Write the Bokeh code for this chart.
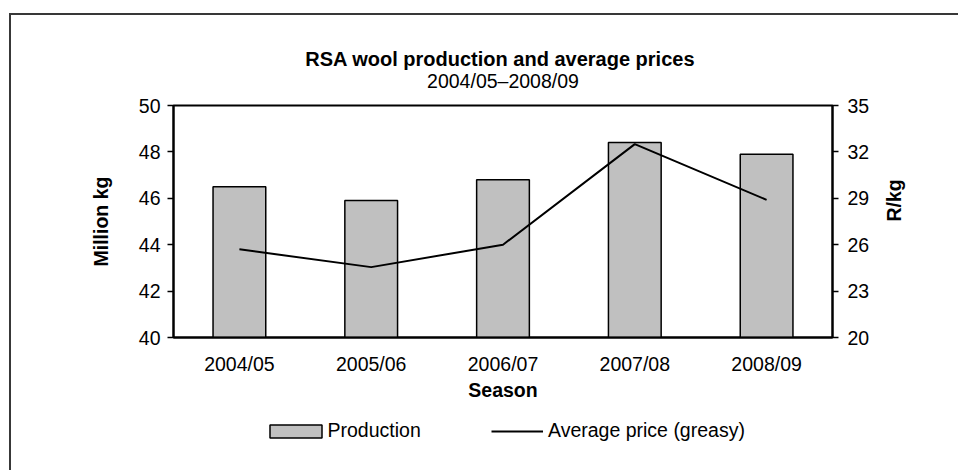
import math
from bokeh.plotting import figure
from bokeh.layouts import column
from bokeh.models import (FactorRange, Range1d, LinearAxis, FixedTicker, Label,
                          Legend, LegendItem)
from bokeh.embed import file_html
from bokeh.resources import INLINE

# ---- data ----
seasons = ["2004/05", "2005/06", "2006/07", "2007/08", "2008/09"]
production = [46.5, 45.9, 46.8, 48.4, 47.9]          # Million kg
avg_price = [25.7, 24.55, 26.0, 32.5, 28.9]           # R/kg (greasy)
prod_ticks = [40, 42, 44, 46, 48, 50]
price_ticks = [20, 23, 26, 29, 32, 35]

title_text = "RSA  wool production and average prices"
subtitle_text = "2004/05\u20132008/09"
legend_labels = ["Production", "Average price (greasy)"]

FONT = "Liberation Sans"
FS = "19.5px"
W = 949
BORDER = "2px solid #383838"
BAR_FILL = "#c0c0c0"

# ---------------- header (titles) ----------------
H0 = 80
p0 = figure(width=W, height=H0, title=None,
            x_range=Range1d(0, 1), y_range=Range1d(0, H0),
            output_backend="svg", toolbar_location=None,
            x_axis_location=None, y_axis_location=None, min_border=0,
            min_border_top=0, min_border_bottom=0)
p0.outline_line_color = None
p0.grid.visible = False
p0.styles = {"border-left": BORDER, "border-top": BORDER,
             "margin-left": "9px", "margin-top": "13px"}
p0.add_layout(Label(x=0.5, y=37, text=title_text,
                    text_align="center", text_baseline="alphabetic",
                    text_font=FONT, text_font_style="bold", text_font_size="20px",
                    text_color="black"))
p0.add_layout(Label(x=0.5, y=14.7, text=subtitle_text,
                    text_align="center", text_baseline="alphabetic",
                    text_font=FONT, text_font_size=FS, text_color="black"))

# ---------------- main chart ----------------
p = figure(width=W, height=322, title=None,
           x_range=FactorRange(factors=seasons),
           y_range=Range1d(prod_ticks[0], prod_ticks[-1]),
           output_backend="svg", toolbar_location=None,
           min_border_left=162, min_border_right=128,
           min_border_top=12, min_border_bottom=78)
p.extra_y_ranges = {"price": Range1d(price_ticks[0], price_ticks[-1])}
p.styles = {"border-left": BORDER, "margin-left": "9px"}

p.background_fill_color = "white"
p.border_fill_color = "white"
p.outline_line_color = "black"
p.outline_line_width = 2
p.xgrid.grid_line_color = None
p.ygrid.grid_line_color = None

p.vbar(x=seasons, top=production, bottom=prod_ticks[0], width=0.4,
       fill_color=BAR_FILL, line_color="black", line_width=1.5)
p.line(x=seasons, y=avg_price, y_range_name="price",
       line_color="black", line_width=2)


def style_axis(ax):
    ax.axis_label_text_font = FONT
    ax.axis_label_text_font_style = "bold"
    ax.axis_label_text_font_size = FS
    ax.axis_label_text_color = "black"
    ax.major_label_text_font = FONT
    ax.major_label_text_font_size = FS
    ax.major_label_text_color = "black"
    ax.axis_line_color = "black"
    ax.axis_line_width = 2
    ax.major_tick_line_color = "black"
    ax.major_tick_line_width = 1.5
    ax.minor_tick_line_color = None


ya = p.yaxis[0]
style_axis(ya)
ya.ticker = FixedTicker(ticks=prod_ticks)
ya.axis_label = "Million kg"
ya.axis_label_standoff = 24
ya.major_label_standoff = 7
ya.major_tick_out = 6
ya.major_tick_in = 0

ra = LinearAxis(y_range_name="price", ticker=FixedTicker(ticks=price_ticks),
                axis_label="R/kg")
style_axis(ra)
ra.axis_label_standoff = 22
ra.major_label_standoff = 9
ra.major_tick_out = 6
ra.major_tick_in = 0
try:
    ra.axis_label_orientation = math.pi / 2
except Exception:
    pass
p.add_layout(ra, "right")

xa = p.xaxis[0]
style_axis(xa)
xa.axis_label = "Season"
xa.axis_label_standoff = 1
xa.major_label_standoff = 15
xa.major_tick_line_color = None
xa.major_tick_out = 0
xa.major_tick_in = 0

# ---------------- legend strip ----------------
# Key renderers carry the series, but this strip has a numeric x window, so the
# season factors do not map anywhere and only the legend swatches are drawn.
H2 = 55
p2 = figure(width=W, height=H2, title=None,
            x_range=Range1d(0, 1), y_range=Range1d(0, 1),
            output_backend="svg", toolbar_location=None,
            x_axis_location=None, y_axis_location=None, min_border=0)
p2.outline_line_color = None
p2.grid.visible = False
p2.styles = {"border-left": BORDER, "margin-left": "9px"}

key_bar = p2.vbar(x=seasons, top=production, bottom=prod_ticks[0], width=0.4,
                  fill_color=BAR_FILL, line_color="black", line_width=1.5)
key_line = p2.line(x=seasons, y=production, line_color="black", line_width=2)

common = dict(orientation="horizontal", glyph_height=16,
              label_text_font=FONT, label_text_font_size=FS,
              label_text_color="black", padding=0, margin=0, spacing=0,
              border_line_color=None, background_fill_alpha=0)
leg1 = Legend(items=[LegendItem(label=legend_labels[0], renderers=[key_bar])],
              location=(89.5, 28), glyph_width=65, label_standoff=-4, **common)
leg2 = Legend(items=[LegendItem(label=legend_labels[1], renderers=[key_line])],
              location=(318, 28), glyph_width=52, label_standoff=5, **common)
p2.add_layout(leg1, "center")
p2.add_layout(leg2, "center")

layout = column(p0, p, p2, spacing=0)
open("out.html", "w").write(file_html(layout, INLINE))
